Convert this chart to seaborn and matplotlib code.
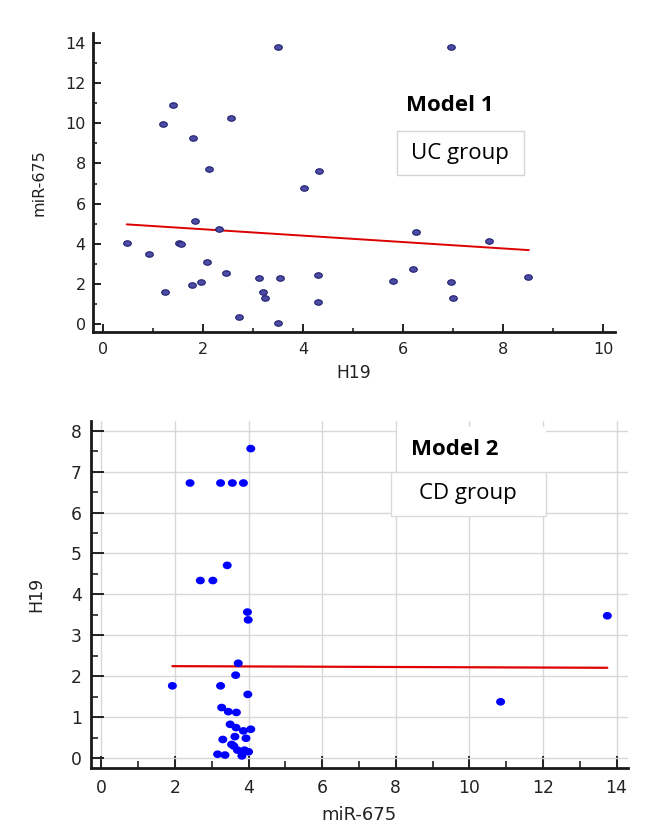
import numpy as np
import pandas as pd
import seaborn as sns
import matplotlib.pyplot as plt
from matplotlib.patches import Rectangle
from matplotlib.path import Path
from matplotlib.ticker import MultipleLocator

# Model 1 - UC group (x = H19, y = miR-675)
uc_h19 = [3.50, 6.95, 1.39, 1.19, 2.56, 1.80, 2.12, 4.01, 4.32, 1.84,
          2.32, 0.47, 1.52, 1.56, 0.91, 2.07, 2.45, 1.96, 1.78, 1.23,
          3.12, 3.53, 3.19, 3.24, 2.71, 3.49, 4.29, 4.29, 6.26, 7.72,
          6.19, 5.79, 6.95, 7.00, 8.49]
uc_mir = [13.81, 13.81, 10.90, 9.97, 10.25, 9.25, 7.71, 6.77, 7.64, 5.16,
          4.73, 4.06, 4.05, 3.98, 3.50, 3.12, 2.54, 2.09, 1.96, 1.61,
          2.29, 2.29, 1.59, 1.33, 0.38, 0.07, 2.44, 1.09, 4.59, 4.16,
          2.77, 2.16, 2.11, 1.31, 2.34]
uc_fit_x = [0.47, 8.51]
uc_fit_y = [4.97, 3.69]

# Model 2 - CD group (x = miR-675, y = H19)
cd_mir = [4.06, 2.41, 3.24, 3.56, 3.86, 3.42, 2.69, 3.03, 3.97, 3.99,
          13.75, 10.85, 1.93, 3.72, 3.65, 3.24, 3.98, 3.27, 3.45, 3.67,
          3.50, 3.66, 3.86, 4.06, 3.63, 3.93, 3.30, 3.54, 3.60, 3.70,
          3.89, 4.00, 3.16, 3.36, 3.82]
cd_h19 = [7.56, 6.72, 6.72, 6.72, 6.72, 4.71, 4.34, 4.34, 3.57, 3.38,
          3.48, 1.38, 1.77, 2.32, 2.03, 1.77, 1.56, 1.24, 1.14, 1.12,
          0.83, 0.75, 0.67, 0.71, 0.53, 0.49, 0.46, 0.34, 0.30, 0.20,
          0.20, 0.16, 0.10, 0.08, 0.06]
cd_fit_x = [1.93, 13.75]
cd_fit_y = [2.25, 2.21]

uc = pd.DataFrame({"H19": uc_h19, "miR-675": uc_mir})
cd = pd.DataFrame({"miR-675": cd_mir, "H19": cd_h19})

sns.set_style("ticks")
plt.rcParams["font.family"] = ["DejaVu Sans"]
box_font = ["Open Sans", "DejaVu Sans"]

t = np.linspace(0, 2 * np.pi, 40)
flat_dot = Path(np.column_stack([np.cos(t), 0.72 * np.sin(t)]), closed=True)
round_dot = Path(np.column_stack([np.cos(t), 0.85 * np.sin(t)]), closed=True)

fig = plt.figure(figsize=(6.61, 8.30), dpi=100)
ax1 = fig.add_axes([0.1402, 0.5996, 0.790, 0.3602])
ax2 = fig.add_axes([0.1372, 0.0743, 0.8133, 0.4188])

# top panel
sns.scatterplot(data=uc, x="H19", y="miR-675", ax=ax1, marker=flat_dot, s=30,
                color="#4c4ca6", edgecolor="#20206e", linewidth=0.8, zorder=3)
sns.lineplot(x=uc_fit_x, y=uc_fit_y, ax=ax1, color="#dd0000", lw=1.4, zorder=2)
ax1.set_xlim(-0.21, 10.23)
ax1.set_ylim(-0.4, 14.47)
ax1.xaxis.set_major_locator(MultipleLocator(2))
ax1.xaxis.set_minor_locator(MultipleLocator(1))
ax1.yaxis.set_major_locator(MultipleLocator(2))
ax1.yaxis.set_minor_locator(MultipleLocator(1))
ax1.tick_params(which="major", direction="in", length=6, width=1.4, labelsize=11.5,
                colors="#222222")
ax1.tick_params(axis="x", which="major", pad=7)
ax1.tick_params(axis="y", which="major", pad=5)
ax1.tick_params(which="minor", direction="in", length=3, width=1.2, colors="#222222")
ax1.set_xlabel("H19", fontsize=12.3, color="#222222")
ax1.set_ylabel("miR-675", fontsize=11.5, color="#222222")
ax1.xaxis.set_label_coords(0.5, -0.106)
ax1.yaxis.set_label_coords(-0.089, 0.5)
sns.despine(ax=ax1)
for sp in ["left", "bottom"]:
    ax1.spines[sp].set_linewidth(2)
    ax1.spines[sp].set_color("#1a1a1a")

ax1.text(0.684, 0.760, "Model 1", transform=ax1.transAxes, ha="center", va="center",
         fontsize=16, fontweight="bold", family=box_font, color="black")
ax1.add_patch(Rectangle((0.582, 0.526), 0.2443, 0.147, transform=ax1.transAxes,
                        facecolor="white", edgecolor="#d4d4d4", lw=1, zorder=4))
ax1.text(0.704, 0.598, "UC group", transform=ax1.transAxes, ha="center", va="center",
         fontsize=16, family=box_font, color="black", zorder=5)

# bottom panel
sns.scatterplot(data=cd, x="miR-675", y="H19", ax=ax2, marker=round_dot, s=42,
                color="#0000ff", edgecolor="none", linewidth=0, zorder=3)
sns.lineplot(x=cd_fit_x, y=cd_fit_y, ax=ax2, color="#e00000", lw=1.6, zorder=2)
ax2.set_xlim(-0.29, 14.32)
ax2.set_ylim(-0.244, 8.24)
ax2.xaxis.set_major_locator(MultipleLocator(2))
ax2.xaxis.set_minor_locator(MultipleLocator(1))
ax2.yaxis.set_major_locator(MultipleLocator(1))
ax2.yaxis.set_minor_locator(MultipleLocator(0.5))
ax2.grid(True, which="major", color="#d8d8d8", lw=1)
ax2.set_axisbelow(True)
ax2.tick_params(which="major", direction="in", length=9, width=1.4, labelsize=12.3,
                colors="#222222")
ax2.tick_params(axis="x", which="major", pad=8)
ax2.tick_params(axis="y", which="major", pad=6.5)
ax2.tick_params(which="minor", direction="in", length=5, width=1.2, colors="#222222")
ax2.set_xlabel("miR-675", fontsize=13, color="#222222")
ax2.set_ylabel("H19", fontsize=12.5, color="#222222")
ax2.xaxis.set_label_coords(0.5, -0.109)
ax2.yaxis.set_label_coords(-0.085, 0.5)
sns.despine(ax=ax2)
for sp in ["left", "bottom"]:
    ax2.spines[sp].set_linewidth(2)
    ax2.spines[sp].set_color("#1a1a1a")

ax2.add_patch(Rectangle((0.569, 0.853), 0.2777, 0.1295, transform=ax2.transAxes,
                        facecolor="white", edgecolor="none", zorder=4))
ax2.text(0.678, 0.9186, "Model 2", transform=ax2.transAxes, ha="center", va="center",
         fontsize=16, fontweight="bold", family=box_font, color="black", zorder=5)
ax2.add_patch(Rectangle((0.558, 0.7258), 0.289, 0.1274, transform=ax2.transAxes,
                        facecolor="white", edgecolor="#dadada", lw=1, zorder=4))
ax2.text(0.702, 0.791, "CD group", transform=ax2.transAxes, ha="center", va="center",
         fontsize=16, family=box_font, color="black", zorder=5)

fig.savefig("out.png", dpi=100)
